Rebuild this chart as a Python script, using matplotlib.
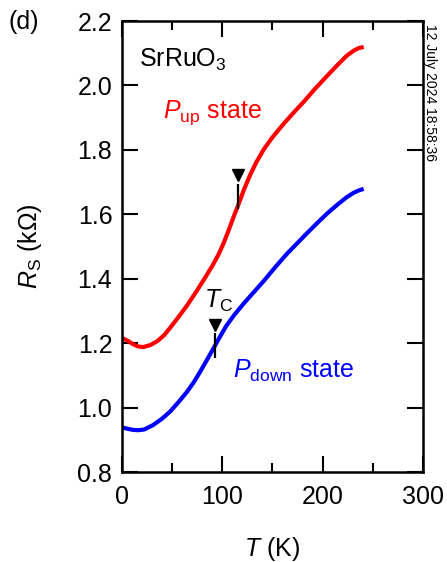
import matplotlib
matplotlib.use('Agg')
import matplotlib.pyplot as plt

# --- fonts ---
plt.rcParams['font.family'] = ['Liberation Sans', 'DejaVu Sans']
plt.rcParams['mathtext.fontset'] = 'custom'
plt.rcParams['mathtext.rm'] = 'Liberation Sans'
plt.rcParams['mathtext.it'] = 'Liberation Sans:italic'
plt.rcParams['mathtext.bf'] = 'Liberation Sans:bold'

# --- data ---
T_up = [2, 6, 11, 16, 21, 28, 35, 42, 48, 56, 65, 74, 83, 90, 96, 101, 106, 111, 116,
        122, 128, 134, 141, 149, 156, 164, 173, 182, 192, 204, 215, 224, 231, 236, 239]
R_up = [1.213, 1.207, 1.197, 1.190, 1.188, 1.194, 1.206, 1.225, 1.248, 1.280, 1.318,
        1.360, 1.404, 1.440, 1.474, 1.508, 1.548, 1.590, 1.630, 1.680, 1.724, 1.762,
        1.800, 1.835, 1.862, 1.891, 1.922, 1.952, 1.988, 2.028, 2.064, 2.092, 2.108,
        2.116, 2.118]

T_down = [1, 6, 11, 16, 22, 31, 40, 48, 56, 65, 72, 78, 85, 91, 98, 104, 112, 121, 131,
          141, 152, 164, 174, 184, 194, 204, 214, 224, 231, 236, 239]
R_down = [0.938, 0.934, 0.931, 0.930, 0.932, 0.946, 0.966, 0.988, 1.016, 1.050, 1.081,
          1.112, 1.150, 1.183, 1.222, 1.254, 1.288, 1.322, 1.357, 1.392, 1.433, 1.476,
          1.508, 1.540, 1.571, 1.601, 1.628, 1.653, 1.667, 1.674, 1.677]

# Tc markers: temperature, triangle position, bar bottom / top
TC_T = [116, 92.7]
TC_TRI = [1.722, 1.258]
TC_BAR_LO = [1.617, 1.154]
TC_BAR_HI = [1.694, 1.232]

fig = plt.figure(figsize=(4.47, 5.62), dpi=100)
ax = fig.add_axes([0.273, 0.160, 0.673, 0.8026])

ax.plot(T_up, R_up, color='#ff0000', lw=3)
ax.plot(T_down, R_down, color='#0000ff', lw=3)

ax.vlines(TC_T, TC_BAR_LO, TC_BAR_HI, color='black', lw=1.6)
ax.plot(TC_T, TC_TRI, linestyle='none', marker='v', color='black', markersize=9)

ax.set_xlim(0, 300)
ax.set_ylim(0.8, 2.2)
ax.set_xticks([0, 100, 200, 300])
ax.set_xticks([50, 150, 250], minor=True)
ax.set_yticks([0.8, 1.0, 1.2, 1.4, 1.6, 1.8, 2.0, 2.2])
ax.set_yticklabels(['0.8', '1.0', '1.2', '1.4', '1.6', '1.8', '2.0', '2.2'])

ax.tick_params(which='both', direction='in', top=True, right=True, labelsize=18, width=1.5)
ax.tick_params(which='major', length=11.5)
ax.tick_params(which='minor', length=6.5)
ax.tick_params(axis='x', pad=9)
ax.tick_params(axis='y', pad=7)
for s in ax.spines.values():
    s.set_linewidth(1.8)

ax.set_xlabel('$T$ (K)', fontsize=18, labelpad=19)
ax.set_ylabel(r'$R_\mathrm{S}$ (k$\Omega$)', fontsize=18, labelpad=24)

ax.text(17, 2.078, r'SrRuO$_3$', fontsize=18, va='center', ha='left')
ax.text(41, 1.915, r'$P_\mathrm{up}$ state', fontsize=18, color='#ff0000', va='center', ha='left')
ax.text(96, 1.33, r'$T_\mathrm{C}$', fontsize=18, va='center', ha='center')
ax.text(111, 1.115, r'$P_\mathrm{down}$ state', fontsize=18, color='#0000ff', va='center', ha='left')

fig.text(0.054, 0.961, '(d)', fontsize=18, ha='center', va='center')
fig.text(0.961, 0.958, '12 July 2024 18:58:36', fontsize=10, rotation=270,
         ha='center', va='top')

fig.savefig('out.png', dpi=100)
